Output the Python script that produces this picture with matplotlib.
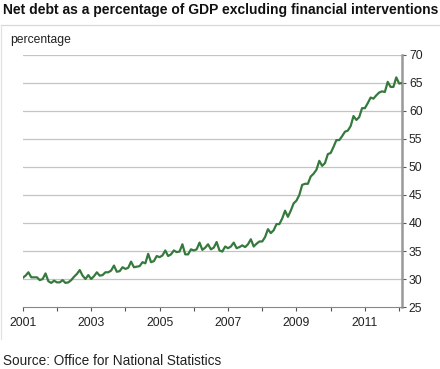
import numpy as np
import matplotlib.pyplot as plt
from matplotlib.lines import Line2D

plt.rcParams['font.family'] = ['Liberation Sans', 'DejaVu Sans']

# Monthly net debt (% of GDP, excl. financial interventions), Jan 2001 - Feb 2012
start_year = 2001
debt = [
    30.2, 30.6, 31.2, 30.3, 30.3, 30.3, 29.8, 30.0, 31.0, 29.6, 29.3, 29.7,
    29.4, 29.4, 29.8, 29.3, 29.4, 29.8, 30.4, 30.9, 31.6, 30.6, 30.0, 30.7,
    30.0, 30.5, 31.2, 30.6, 30.7, 31.2, 31.2, 31.5, 32.4, 31.3, 31.4, 32.1,
    31.8, 32.0, 33.1, 32.1, 32.2, 32.3, 33.0, 32.8, 34.5, 33.0, 33.2, 34.1,
    33.9, 34.2, 35.1, 34.1, 34.4, 35.1, 34.8, 34.9, 36.2, 34.4, 34.4, 35.3,
    35.1, 35.3, 36.5, 35.2, 35.6, 36.2, 35.3, 35.6, 36.6, 35.1, 34.9, 35.8,
    35.5, 35.8, 36.5, 35.5, 35.7, 36.0, 35.7, 36.2, 37.1, 35.8, 36.3, 36.7,
    36.7, 37.5, 38.9, 38.2, 38.7, 39.8, 39.8, 40.8, 42.2, 41.1, 42.2, 43.5,
    44.0, 45.0, 46.8, 47.0, 47.0, 48.3, 48.8, 49.5, 51.1, 50.2, 50.7, 52.3,
    52.5, 53.6, 54.8, 54.8, 55.5, 56.3, 56.5, 57.3, 59.1, 58.4, 58.9, 60.5,
    60.5, 61.4, 62.4, 62.2, 62.8, 63.3, 63.5, 63.4, 65.2, 64.3, 64.3, 66.0,
    64.9, 65.0,
]
year_ticks = list(range(2001, 2013))
year_labels = ['2001', '', '2003', '', '2005', '', '2007', '', '2009', '', '2011', '']
y_ticks = [25, 30, 35, 40, 45, 50, 55, 60, 65, 70]

t = start_year + np.arange(len(debt)) / 12.0

fig = plt.figure(figsize=(4.4, 3.69), dpi=100)
ax = fig.add_axes([0.0516, 0.168, 0.862, 0.683])

ax.plot(t, debt, color='#357a3c', linewidth=1.6, zorder=3)

ax.set_xlim(t[0], t[-1])
ax.set_ylim(25, 70)
ax.set_xticks(year_ticks)
ax.set_xticklabels(year_labels)
ax.set_yticks(y_ticks)
ax.yaxis.tick_right()
ax.tick_params(axis='both', labelsize=8.8, labelcolor='#222222', color='#555555',
               length=3, width=0.8, direction='out', pad=2)
ax.tick_params(axis='x', pad=4)

for v in y_ticks[1:]:
    ax.axhline(v, color='#c4c4c4', linewidth=0.9, zorder=1)

for side in ['top', 'left']:
    ax.spines[side].set_visible(False)
ax.spines['bottom'].set_color('#888888')
ax.spines['bottom'].set_linewidth(0.8)
ax.spines['right'].set_color('#999999')
ax.spines['right'].set_linewidth(1.8)

# light frame around chart panel
fig.add_artist(Line2D([0.003, 1.0], [1 - 24.5 / 369, 1 - 24.5 / 369],
                      color='#d8d8d8', linewidth=0.9, transform=fig.transFigure))
fig.add_artist(Line2D([0.003, 0.003], [1 - 24.5 / 369, 1 - 339 / 369],
                      color='#e2e2e2', linewidth=0.9, transform=fig.transFigure))

fig.text(0.007, 1 - 10 / 369, 'Net debt as a percentage of GDP excluding financial interventions',
         fontsize=10.0, fontweight='bold', color='#111111', va='center', ha='left')
fig.text(0.023, 1 - 40 / 369, 'percentage', fontsize=8.7, color='#222222',
         va='center', ha='left')
fig.text(0.007, 1 - 361 / 369, 'Source: Office for National Statistics', fontsize=9.8,
         color='#222222', va='center', ha='left')

fig.savefig('out.png', dpi=100)
